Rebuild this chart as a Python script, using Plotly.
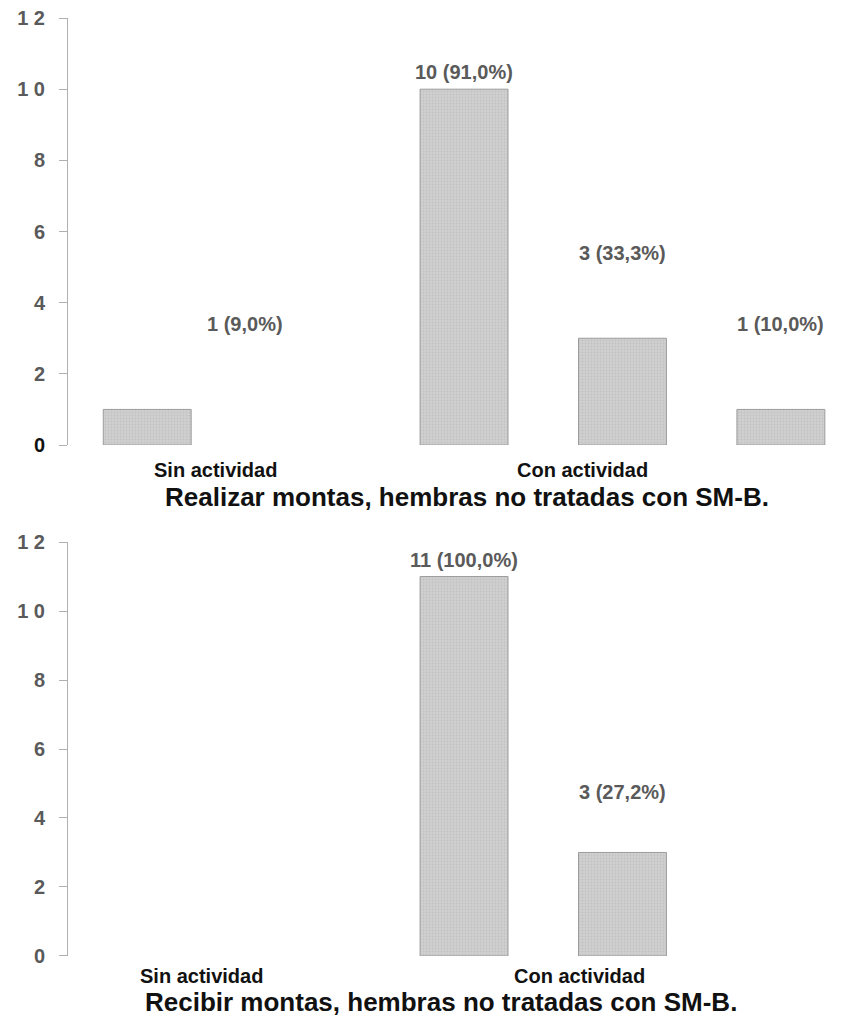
import plotly.graph_objects as go

# ---------------- data ----------------
slots = ["Sin actividad A", "Sin actividad B", "Con actividad A", "Con actividad B", "Con actividad C"]
top_values = [1, None, 10, 3, 1]
top_labels = ["1 (9,0%)", "", "10 (91,0%)", "3 (33,3%)", "1 (10,0%)"]
bottom_values = [None, None, 11, 3, None]
bottom_labels = ["", "", "11 (100,0%)", "3 (27,2%)", ""]
category_labels = ["Sin actividad", "Con actividad"]
y_tick_vals = [0, 2, 4, 6, 8, 10, 12]
top_tick_text = ["<span style='color:#111'>0</span>", "2", "4", "6", "8", "1 0", "1 2"]
bottom_tick_text = ["0", "2", "4", "6", "8", "1 0", "1 2"]
titles = ["Realizar montas, hembras no tratadas con SM-B.",
          "Recibir montas, hembras no tratadas con SM-B."]

# ---------------- style ----------------
# the page body has an 8px margin, so the figure is 8px smaller than the window
W, H = 841, 1013
FONT = "Liberation Sans"
bar_marker = dict(
    color="#cbcbcb",
    line=dict(color="#9c9c9c", width=1),
    pattern=dict(shape=".", fgcolor="#b2b2b2", bgcolor="#d0d0d0", size=3, solidity=0.35),
)

fig = go.Figure()
fig.add_trace(go.Bar(x=slots, y=top_values, marker=bar_marker, xaxis="x", yaxis="y",
                     showlegend=False, hoverinfo="skip"))
fig.add_trace(go.Bar(x=slots, y=bottom_values, marker=bar_marker, xaxis="x2", yaxis="y2",
                     showlegend=False, hoverinfo="skip"))

xrange = [-0.5, 4.43]
common_x = dict(type="category", range=xrange, showticklabels=False, showgrid=False,
                zeroline=False, showline=False, ticks="", automargin=False)
common_y = dict(range=[0, 12], tickvals=y_tick_vals, showgrid=False, zeroline=False,
                showline=True, linecolor="#b0b0b0", linewidth=1, ticks="outside",
                ticklen=8, tickcolor="#b0b0b0", automargin=False, ticklabelstandoff=10,
                ticklabeloverflow="allow",
                tickfont=dict(family=FONT, size=20, color="#5a5a5a", weight="bold"))

fig.update_layout(
    width=W, height=H, margin=dict(l=60, r=0, t=0, b=0, autoexpand=False),
    paper_bgcolor="white", plot_bgcolor="white", bargap=0.445,
    xaxis=dict(common_x, domain=[0, 1], anchor="y"),
    yaxis=dict(common_y, domain=[0.5686, 0.9901], anchor="x", ticktext=top_tick_text),
    xaxis2=dict(common_x, domain=[0, 1], anchor="y2"),
    yaxis2=dict(common_y, domain=[0.0642, 0.4728], anchor="x2", ticktext=bottom_tick_text),
)

annotations = []
label_font = dict(family=FONT, size=20, color="#5a5a5a", weight="bold")
# value labels
panels = [("x", "y", top_values, top_labels, 85), ("x2", "y2", bottom_values, bottom_labels, 60)]
for xr, yr, vals, labs, short_shift in panels:
    for i, (v, t) in enumerate(zip(vals, labs)):
        if v is None or not t:
            continue
        xshift = 98 if (xr == "x" and i == 0) else 0
        annotations.append(dict(x=slots[i], y=v, xref=xr, yref=yr, text=t, showarrow=False,
                                yanchor="middle", yshift=17 if v >= 5 else short_shift,
                                xshift=xshift, font=label_font))

# category labels
cat_font = dict(family=FONT, size=20, color="#111111", weight="bold")
cat_positions = [([0.43, 2.75], 0.5439, "x"), ([0.34, 2.73], 0.0444, "x2")]
for xs, ypos, xr in cat_positions:
    for name, xv in zip(category_labels, xs):
        annotations.append(dict(x=xv, y=ypos, xref=xr, yref="paper", text=name,
                                showarrow=False, font=cat_font, yanchor="middle"))

# titles
title_font = dict(family=FONT, size=26, color="#111111", weight="bold")
for t, ypos, xpos in zip(titles, [0.5173, 0.0188], [0.511, 0.478]):
    annotations.append(dict(x=xpos, y=ypos, xref="paper", yref="paper", text=t,
                            showarrow=False, font=title_font, xanchor="center",
                            yanchor="middle"))

fig.update_layout(annotations=annotations)
fig.write_html("out.html")
